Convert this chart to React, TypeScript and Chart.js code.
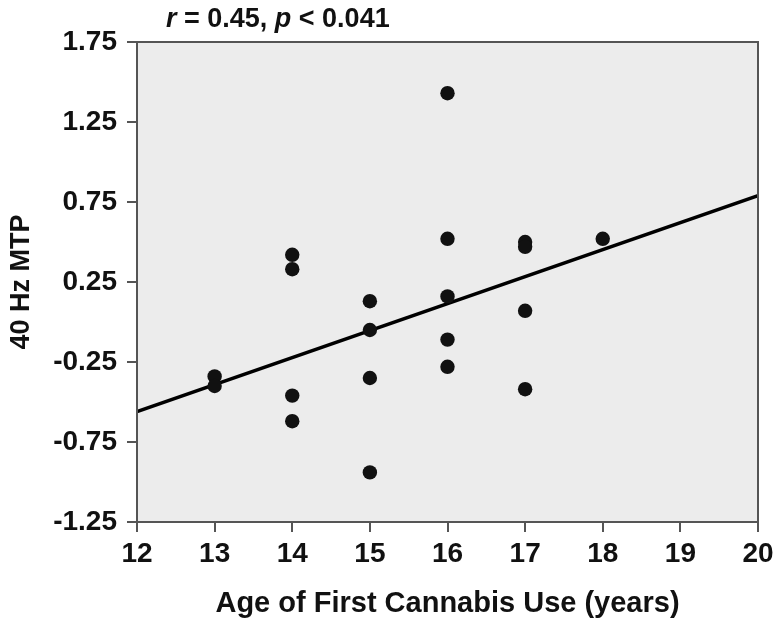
import { useEffect, useRef } from "react";
import { Chart, registerables } from "chart.js";

Chart.register(...registerables);

// ---- data ----
const ageYears = [13, 13, 14, 14, 14, 14, 15, 15, 15, 15, 16, 16, 16, 16, 16, 17, 17, 17, 17, 18];
const mtpValues = [-0.34, -0.4, 0.42, 0.33, -0.46, -0.62, 0.13, -0.05, -0.35, -0.94, 1.43, 0.52, 0.16, -0.11, -0.28, 0.5, 0.47, 0.07, -0.42, 0.52];
const fitX = [12, 20];
const fitY = [-0.56, 0.79];
const xTickValues = [12, 13, 14, 15, 16, 17, 18, 19, 20];
const yTickValues = [-1.25, -0.75, -0.25, 0.25, 0.75, 1.25, 1.75];
const titleParts = [
  { text: "r", italic: true },
  { text: " = 0.45, ", italic: false },
  { text: "p", italic: true },
  { text: " < 0.041", italic: false },
];
const xAxisTitle = "Age of First Cannabis Use (years)";
const yAxisTitle = "40 Hz MTP";

const FONT = "'Liberation Sans', Arial, Helvetica, sans-serif";

const plotBoxPlugin = {
  id: "plotBox",
  beforeDraw(chart: any) {
    const { ctx, chartArea } = chart;
    ctx.save();
    ctx.fillStyle = "#ffffff";
    ctx.fillRect(0, 0, chart.width, chart.height);
    ctx.fillStyle = "#ececec";
    ctx.fillRect(chartArea.left, chartArea.top, chartArea.right - chartArea.left, chartArea.bottom - chartArea.top);
    ctx.restore();
  },
  afterDraw(chart: any) {
    const { ctx, chartArea } = chart;
    ctx.save();
    ctx.strokeStyle = "#555555";
    ctx.lineWidth = 2;
    ctx.strokeRect(chartArea.left, chartArea.top, chartArea.right - chartArea.left, chartArea.bottom - chartArea.top);
    // title with italic parts
    let x = 166;
    const y = 27;
    ctx.fillStyle = "#111111";
    ctx.textBaseline = "alphabetic";
    ctx.textAlign = "left";
    for (const part of titleParts) {
      ctx.font = `${part.italic ? "italic " : ""}bold 27px ${FONT}`;
      ctx.fillText(part.text, x, y);
      x += ctx.measureText(part.text).width;
    }
    ctx.restore();
  },
};

export default function App() {
  const canvasRef = useRef<HTMLCanvasElement | null>(null);

  useEffect(() => {
    if (!canvasRef.current) return;
    const scatterPoints = ageYears.map((a, i) => ({ x: a, y: mtpValues[i] }));
    const fitPoints = fitX.map((a, i) => ({ x: a, y: fitY[i] }));
    const chart = new Chart(canvasRef.current, {
      type: "scatter",
      data: {
        datasets: [
          {
            type: "line",
            data: fitPoints,
            borderColor: "#000000",
            borderWidth: 3.5,
            pointRadius: 0,
            fill: false,
            order: 2,
          } as any,
          {
            type: "scatter",
            data: scatterPoints,
            backgroundColor: "#111111",
            borderColor: "#111111",
            borderWidth: 0,
            pointRadius: 7.2,
            order: 1,
          },
        ],
      },
      options: {
        responsive: false,
        animation: false,
        devicePixelRatio: 1,
        layout: { padding: { top: 42, right: 17, left: 0, bottom: 0 } },
        plugins: {
          legend: { display: false },
          tooltip: { enabled: false },
          title: { display: false },
        },
        scales: {
          x: {
            type: "linear",
            min: 12,
            max: 20,
            afterBuildTicks(scale: any) {
              scale.ticks = xTickValues.map((v) => ({ value: v }));
            },
            afterFit(scale: any) {
              scale.height = 102;
              scale.paddingLeft = 0;
              scale.paddingRight = 0;
            },
            border: { display: false },
            grid: {
              drawOnChartArea: false,
              drawTicks: true,
              tickLength: 10,
              color: "#555555",
              lineWidth: 2,
            },
            ticks: {
              color: "#111111",
              font: { family: FONT, size: 28, weight: "bold" },
              padding: 5,
              maxRotation: 0,
              autoSkip: false,
              callback: (v: any) => String(v),
            },
            title: {
              display: true,
              text: xAxisTitle,
              color: "#111111",
              font: { family: FONT, size: 29, weight: "bold" },
              padding: { top: 0, bottom: 3 },
            },
          },
          y: {
            type: "linear",
            min: -1.25,
            max: 1.75,
            afterBuildTicks(scale: any) {
              scale.ticks = yTickValues.map((v) => ({ value: v }));
            },
            afterFit(scale: any) {
              scale.width = 137;
              scale.paddingTop = 0;
              scale.paddingBottom = 0;
            },
            border: { display: false },
            grid: {
              drawOnChartArea: false,
              drawTicks: true,
              tickLength: 10,
              color: "#555555",
              lineWidth: 2,
            },
            ticks: {
              color: "#111111",
              font: { family: FONT, size: 28, weight: "bold" },
              padding: 10,
              autoSkip: false,
              callback: (v: any) => Number(v).toFixed(2),
            },
            title: {
              display: true,
              text: yAxisTitle,
              color: "#111111",
              font: { family: FONT, size: 27, weight: "bold" },
              padding: { top: 5, bottom: 4 },
            },
          },
        },
      },
      plugins: [plotBoxPlugin],
    } as any);
    return () => chart.destroy();
  }, []);

  return (
    <div style={{ position: "absolute", left: 0, top: 0, width: 775, height: 624, background: "#fff" }}>
      <canvas ref={canvasRef} width={775} height={624} style={{ display: "block" }} />
    </div>
  );
}
